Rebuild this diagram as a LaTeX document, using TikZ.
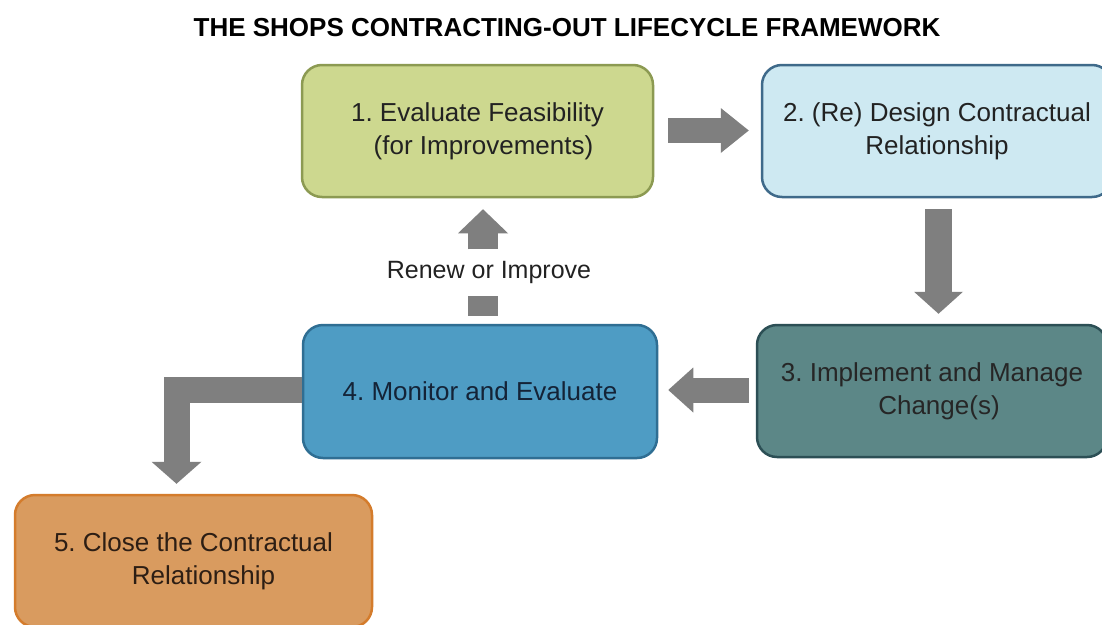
\documentclass[tikz,border=0pt]{standalone}
\usepackage{fontspec}
\setmainfont{Liberation Sans}
\usetikzlibrary{arrows.meta,calc}
\frenchspacing
\definecolor{fillA}{HTML}{CDD88F}
\definecolor{lineA}{HTML}{8C9A52}
\definecolor{fillB}{HTML}{CEE9F2}
\definecolor{lineB}{HTML}{3F6A8A}
\definecolor{fillC}{HTML}{5C8787}
\definecolor{lineC}{HTML}{2C4F55}
\definecolor{fillD}{HTML}{4E9CC4}
\definecolor{lineD}{HTML}{2F6E93}
\definecolor{fillE}{HTML}{D99B5F}
\definecolor{lineE}{HTML}{D47C2C}
\definecolor{arrowgray}{HTML}{7F7F7F}
\definecolor{txt}{HTML}{222222}
\tikzset{
  stepbox/.style={rounded corners=20pt, line width=2.5pt, align=center,
    inner sep=0pt, text=txt, font=\fontsize{26}{33}\selectfont\frenchspacing},
  blockarrow/.style={draw=arrowgray, line width=#1, line cap=butt, line join=miter},
  tiphead/.style 2 args={-{Triangle[width=#1, length=#2, line width=0pt]}}
}
\begin{document}
\begin{tikzpicture}[x=1pt,y=-1pt]
\useasboundingbox (0,0) rectangle (1102,624);
\clip (0,0) rectangle (1102,624);
\fill[white] (0,0) rectangle (1102,624);

\node[font=\bfseries\fontsize{26}{30}\selectfont, text=black] (title) at (567,28)
  {THE SHOPS CONTRACTING-OUT LIFECYCLE FRAMEWORK};

\node[stepbox, fill=fillA, draw=lineA, minimum width=351pt, minimum height=132pt] (b1) at (477.5,131)
  {1. Evaluate Feasibility\\\hspace*{12pt}(for Improvements)};
\node[stepbox, fill=fillB, draw=lineB, minimum width=350pt, minimum height=132pt] (b2) at (937,131)
  {2. (Re) Design Contractual\\Relationship};
\node[stepbox, fill=fillC, draw=lineC, minimum width=350pt, minimum height=132pt, text=black!85] (b3) at (932,391)
  {3. Implement and Manage\\\hspace*{14pt}Change(s)};
\node[stepbox, fill=fillD, draw=lineD, minimum width=354pt, minimum height=133pt, text={rgb,255:red,20;green,35;blue,55}] (b4) at (480,391.5)
  {4. Monitor and Evaluate};
\node[stepbox, fill=fillE, draw=lineE, minimum width=357pt, minimum height=132pt, text={rgb,255:red,45;green,30;blue,20}] (b5) at (193.5,561)
  {5. Close the Contractual\\\hspace*{20pt}Relationship};

\node[font=\fontsize{25}{30}\selectfont, text=txt] (renew) at (489,272) {Renew or Improve};

% 1 -> 2
\draw[blockarrow=25pt, tiphead={45pt}{28pt}] ($(b1.east)+(14,-0.5)$) -- ($(b2.west)+(-12,-0.5)$);
% 2 -> 3
\draw[blockarrow=27pt, tiphead={49pt}{22pt}] ($(b2.south)+(1.5,11)$) -- ($(b3.north)+(6.5,-10)$);
% 3 -> 4
\draw[blockarrow=25pt, tiphead={45pt}{25pt}] ($(b3.west)+(-7,-1)$) -- ($(b4.east)+(10,-1.5)$);
% 4 -> 5
\draw[blockarrow=26pt, tiphead={50pt}{22pt}] ($(b4.west)+(0,-1.5)$) -| ($(b5.north)+(-17,-10)$);
% 4 -> 1 (renew)
\draw[blockarrow=30pt] ($(b4.north)+(3,-8)$) -- ($(b4.north)+(3,-28)$);
\draw[blockarrow=30pt, tiphead={50pt}{24pt}] ($(b1.south)+(5.5,51)$) -- ($(b1.south)+(5.5,11)$);
\end{tikzpicture}
\end{document}
